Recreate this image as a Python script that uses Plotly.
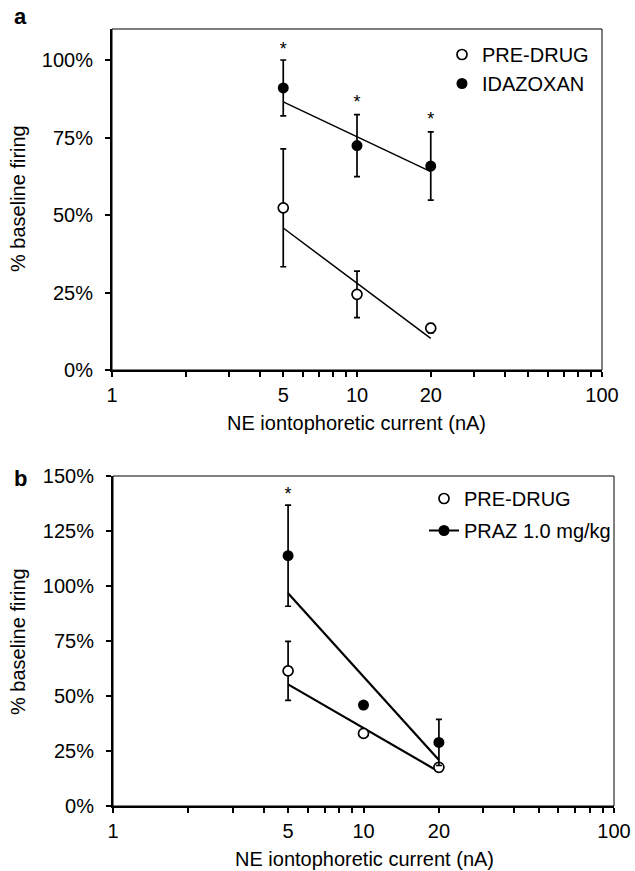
import plotly.graph_objects as go

# ---- data ----
current = [5, 10, 20]              # NE iontophoretic current (nA)
fit_x = [5, 20]

# panel a
a_pre = [52.3, 24.4, 13.5]
a_pre_err = [19.0, 7.5, 1.5]
a_pre_fit = [45.8, 10.2]
a_ida = [91.0, 72.4, 65.8]
a_ida_err = [9.0, 10.0, 11.0]
a_ida_fit = [86.5, 64.0]
a_star_y = [103.2, 86.0, 80.4]

# panel b
b_pre = [61.4, 33.0, 17.6]
b_pre_err = [13.4, 0.0, 0.0]
b_pre_fit = [55.3, 15.6]
b_praz = [113.8, 45.9, 28.9]
b_praz_err = [23.0, 0.0, 10.5]
b_praz_fit = [96.7, 20.9]
b_star_x = [5]
b_star_y = [141.0]

x_ticks = [1, 5, 10, 20, 100]
x_minor = [2, 3, 4, 6, 7, 8, 9, 30, 40, 50, 60, 70, 80, 90]
a_yticks = [0, 25, 50, 75, 100]
b_yticks = [0, 25, 50, 75, 100, 125, 150]

FONT = "Liberation Sans, Arial, sans-serif"
W, H = 635, 871


def px_x(p):
    return p / W


def px_y(p):
    return 1 - p / H


fig = go.Figure()


def add_panel(xa, ya, pre, pre_err, pre_fit, drug, drug_err, drug_fit,
              fitw, legend, drug_name, drug_leg_line):
    fig.add_trace(go.Scatter(x=fit_x, y=pre_fit, mode="lines", xaxis=xa, yaxis=ya,
                             line=dict(color="black", width=fitw),
                             showlegend=False, hoverinfo="skip"))
    fig.add_trace(go.Scatter(x=fit_x, y=drug_fit, mode="lines", xaxis=xa, yaxis=ya,
                             line=dict(color="black", width=fitw),
                             showlegend=False, hoverinfo="skip"))
    fig.add_trace(go.Scatter(
        x=current, y=pre, mode="markers", xaxis=xa, yaxis=ya, name="PRE-DRUG",
        legend=legend, legendgroup=legend + "pre",
        marker=dict(symbol="circle", size=10, color="white",
                    line=dict(color="black", width=1.7)),
        error_y=dict(type="data", array=pre_err, visible=True,
                     color="black", thickness=1.7, width=3)))
    fig.add_trace(go.Scatter(
        x=current, y=drug, mode="markers", xaxis=xa, yaxis=ya, name=drug_name,
        legend=legend, legendgroup=legend + "drug", showlegend=not drug_leg_line,
        marker=dict(symbol="circle", size=11, color="black"),
        error_y=dict(type="data", array=drug_err, visible=True,
                     color="black", thickness=1.7, width=3)))
    if drug_leg_line:
        fig.add_trace(go.Scatter(
            x=[None], y=[None], mode="lines+markers", xaxis=xa, yaxis=ya,
            name=drug_name, legend=legend, legendgroup=legend + "drug",
            marker=dict(symbol="circle", size=11, color="black"),
            line=dict(color="black", width=2)))


add_panel("x", "y", a_pre, a_pre_err, a_pre_fit, a_ida, a_ida_err, a_ida_fit,
          1.5, "legend", "IDAZOXAN", False)
add_panel("x2", "y2", b_pre, b_pre_err, b_pre_fit, b_praz, b_praz_err, b_praz_fit,
          2.2, "legend2", "PRAZ 1.0 mg/kg", True)

# significance asterisks
fig.add_trace(go.Scatter(x=current, y=a_star_y, mode="text", text=["*"] * 3,
                         textfont=dict(size=18, color="black", family=FONT),
                         xaxis="x", yaxis="y", showlegend=False, hoverinfo="skip"))
fig.add_trace(go.Scatter(x=b_star_x, y=b_star_y, mode="text", text=["*"],
                         textfont=dict(size=18, color="black", family=FONT),
                         xaxis="x2", yaxis="y2", showlegend=False, hoverinfo="skip"))

xcommon = dict(type="log", range=[0, 2], tickmode="array", tickvals=x_ticks,
               ticktext=[str(v) for v in x_ticks], ticks="outside", ticklen=5,
               tickwidth=1.5, tickcolor="black", showline=True, linewidth=2,
               linecolor="black", showgrid=False, zeroline=False, automargin=False,
               ticklabelstandoff=1,
               minor=dict(tickmode="array", tickvals=x_minor, ticks="outside",
                          ticklen=5, tickwidth=1.5, tickcolor="black", showgrid=False),
               tickfont=dict(size=20))
ycommon = dict(ticks="outside", ticklen=5, tickwidth=1.5, tickcolor="black",
               showline=True, linewidth=2, linecolor="black", showgrid=False,
               zeroline=False, automargin=False, tickmode="array",
               ticklabelstandoff=8, tickfont=dict(size=20))


def label(text, x, y, size=20, angle=0):
    return dict(text=text, x=px_x(x), y=px_y(y), xref="paper", yref="paper",
                xanchor="center", yanchor="middle", textangle=angle,
                showarrow=False, font=dict(size=size))


fig.update_layout(
    width=W, height=H, margin=dict(l=0, r=0, t=0, b=0),
    paper_bgcolor="white", plot_bgcolor="white",
    font=dict(family=FONT, color="black", size=20),
    xaxis=dict(xcommon, domain=[px_x(112), px_x(602)], anchor="y"),
    yaxis=dict(ycommon, domain=[px_y(370), px_y(29)], anchor="x",
               range=[0, 110], tickvals=a_yticks,
               ticktext=[f"{v}%" for v in a_yticks]),
    xaxis2=dict(xcommon, domain=[px_x(113), px_x(614)], anchor="y2"),
    yaxis2=dict(ycommon, domain=[px_y(806), px_y(476)], anchor="x2",
                range=[0, 150], tickvals=b_yticks,
                ticktext=[f"{v}%" for v in b_yticks]),
    legend=dict(x=px_x(442), y=px_y(35), xanchor="left", yanchor="top",
                bgcolor="rgba(0,0,0,0)", itemwidth=30, tracegroupgap=0,
                font=dict(size=20)),
    legend2=dict(x=px_x(424), y=px_y(479), xanchor="left", yanchor="top",
                 bgcolor="rgba(0,0,0,0)", itemwidth=30, tracegroupgap=3,
                 font=dict(size=20)),
    shapes=[
        dict(type="rect", xref="x domain", yref="y domain", x0=0, x1=1, y0=0, y1=1,
             line=dict(color="black", width=1)),
        dict(type="rect", xref="x2 domain", yref="y2 domain", x0=0, x1=1, y0=0, y1=1,
             line=dict(color="black", width=1)),
    ],
    annotations=[
        label("<b>a</b>", 20, 16.5, size=22),
        label("<b>b</b>", 20, 478, size=22),
        label("NE iontophoretic current (nA)", 356, 423),
        label("NE iontophoretic current (nA)", 364, 859),
        label("% baseline firing", 18, 199, angle=-90),
        label("% baseline firing", 18, 642, angle=-90),
    ],
)

# drop the default page margin so the figure fills the window exactly
fig.write_html("out.html", config={"displayModeBar": False},
               post_script="document.body.style.margin = '0';")
